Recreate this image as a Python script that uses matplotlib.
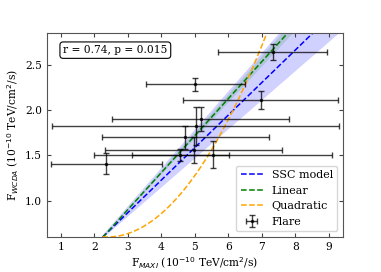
import numpy as np
import matplotlib
matplotlib.use("Agg")
import matplotlib.pyplot as plt

plt.rcParams['font.family'] = 'DejaVu Serif'
plt.rcParams['mathtext.fontset'] = 'dejavusans'

# flare data: MAXI flux vs WCDA flux (10^-10 TeV/cm^2/s)
f_maxi = [2.36, 5.01, 6.96, 7.32, 5.17, 5.02, 4.71, 4.96, 5.54, 4.57]
f_maxi_err = [1.66, 1.48, 2.30, 1.64, 2.65, 4.28, 2.49, 2.63, 3.56, 1.45]
f_wcda = [1.41, 2.285, 2.11, 2.645, 1.90, 1.83, 1.70, 1.56, 1.51, 1.50]
f_wcda_err = [0.12, 0.074, 0.096, 0.087, 0.133, 0.21, 0.13, 0.14, 0.15, 0.066]

# fitted models
ssc_pivot = (2.25, 0.6)
ssc_slope = 0.359
ssc_slope_lo = 0.321
ssc_slope_hi = 0.423
lin_coef = (0.4085, -0.323)
lin_band = 0.012
quad_coef = (0.0991, -0.472, 1.161)

r_val, p_val = 0.74, 0.015

fig = plt.figure(figsize=(3.81, 2.72), dpi=100)
ax = fig.add_axes([0.123, 0.129, 0.777, 0.750])

xs = np.linspace(2.24, 9.6, 300)
x0, y0 = ssc_pivot
ssc = y0 + ssc_slope * (xs - x0)
ax.fill_between(xs, y0 + ssc_slope_lo * (xs - x0 - 0.05), y0 + ssc_slope_hi * (xs - x0 + 0.05),
                color='blue', alpha=0.18, lw=0)
lin = np.polyval(lin_coef, xs)
ax.fill_between(xs, lin - lin_band * (xs - 2.26), lin + lin_band * (xs - 2.26),
                color='green', alpha=0.15, lw=0)
ax.plot(xs, ssc, '--', color='blue', lw=1.1, label='SSC model')
ax.plot(xs, lin, '--', color='green', lw=1.1, label='Linear')
ax.plot(xs, np.polyval(quad_coef, xs), '--', color='orange', lw=1.1, label='Quadratic')

ax.errorbar(f_maxi, f_wcda, xerr=f_maxi_err, yerr=f_wcda_err, fmt='.', color='k',
            ms=3, elinewidth=1, capsize=2, alpha=0.75, label='Flare')

ax.text(0.055, 0.94, 'r = {:.2f}, p = {:.3f}'.format(r_val, p_val), transform=ax.transAxes,
        fontsize=7.7, va='top', ha='left',
        bbox=dict(boxstyle='round,pad=0.3', fc='white', ec='k', lw=0.8))

ax.set_xlim(0.58, 9.42)
ax.set_ylim(0.6, 2.853)
ax.set_yticks([1.0, 1.5, 2.0, 2.5])
ax.set_xticks(range(1, 10))
ax.tick_params(direction='in', top=True, right=True, labelsize=7.7, length=3, color='#444')
for sp in ax.spines.values():
    sp.set_color('#555')

ax.set_xlabel(r'F$_{MAXI}$ (10$^{-10}$ TeV/cm$^2$/s)', fontsize=7.7, labelpad=3)
ax.set_ylabel(r'F$_{WCDA}$ (10$^{-10}$ TeV/cm$^2$/s)', fontsize=7.7, labelpad=3)
ax.legend(loc='lower right', fontsize=8)

plt.savefig('out.png', dpi=100)
